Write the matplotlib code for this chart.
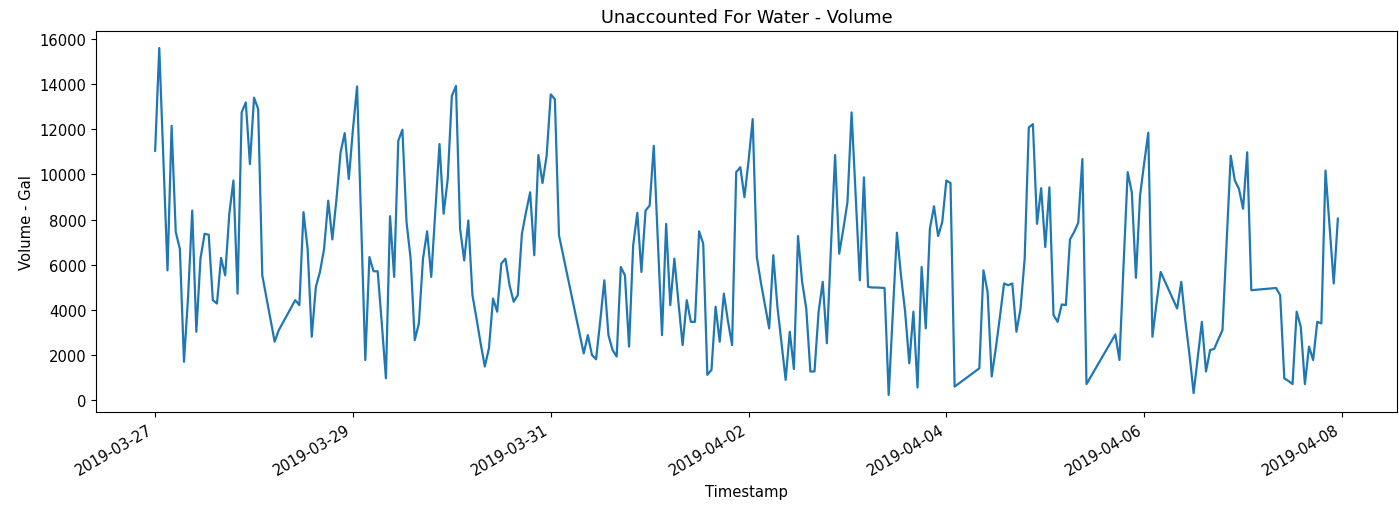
import matplotlib
matplotlib.use('Agg')
import matplotlib.pyplot as plt
import matplotlib.dates as mdates
import pandas as pd

# hours after 2019-03-27 00:00 and the unaccounted volume (gal)
hours = [
    0, 1, 3, 4, 5, 6, 7, 8, 9, 10, 11, 12, 13, 14, 15, 16, 17, 18, 19, 20,
    21, 22, 23, 24, 25, 26, 29, 30, 34, 35, 36, 37, 38, 39, 40, 41, 42, 43, 44, 45,
    46, 47, 48, 49, 50, 51, 52, 53, 54, 55, 56, 57, 58, 59, 60, 61, 62, 63, 64, 65,
    66, 67, 68, 69, 70, 71, 72, 73, 74, 75, 76, 77, 78, 79, 80, 81, 82, 83, 84, 85,
    86, 87, 88, 89, 90, 91, 92, 93, 94, 95, 96, 97, 98, 104, 105, 106, 107, 108, 109, 110,
    111, 112, 113, 114, 115, 116, 117, 118, 119, 120, 121, 122, 123, 124, 125, 126, 127, 128, 129, 130,
    131, 132, 133, 134, 135, 136, 137, 138, 139, 140, 141, 142, 143, 144, 145, 146, 147, 148, 149, 150,
    151, 152, 153, 154, 155, 156, 157, 158, 159, 160, 161, 162, 163, 164, 165, 166, 167, 168, 169, 170,
    171, 172, 173, 174, 175, 176, 177, 178, 179, 180, 181, 182, 183, 184, 185, 186, 187, 188, 189, 190,
    191, 192, 193, 194, 200, 201, 202, 203, 204, 205, 206, 207, 208, 209, 210, 211, 212, 213, 214, 215,
    216, 217, 218, 219, 220, 221, 222, 223, 224, 225, 226, 233, 234, 235, 236, 237, 238, 239, 240, 241,
    242, 243, 244, 248, 249, 250, 251, 252, 253, 254, 255, 256, 257, 258, 259, 260, 261, 262, 263, 264,
    265, 266, 272, 273, 274, 275, 276, 277, 278, 279, 280, 281, 282, 283, 284, 285, 286, 287,
]
volume = [
    11050, 15600, 5750, 12150, 7450, 6700, 1700, 4600, 8400, 3030, 6270, 7370, 7330, 4430, 4280, 6300, 5530, 8260, 9730, 4720,
    12750, 13190, 10460, 13400, 12900, 5530, 2590, 3100, 4430, 4210, 8330, 6710, 2810, 5020, 5680, 6710, 8840, 7120, 8900, 10980,
    11830, 9800, 12000, 13900, 7800, 1780, 6340, 5710, 5710, 3400, 970, 8150, 5460, 11490, 11980, 7890, 6270, 2660, 3400, 6270,
    7480, 5460, 8400, 11350, 8260, 9800, 13480, 13920, 7590, 6190, 7960, 4650, 3600, 2500, 1490, 2300, 4500, 3920, 6050, 6270,
    5090, 4360, 4650, 7370, 8330, 9210, 6420, 10860, 9620, 10830, 13550, 13330, 7300, 2070, 2880, 2000, 1810, 3500, 5310, 2880,
    2220, 1930, 5900, 5530, 2370, 6860, 8300, 5680, 8400, 8620, 11270, 7000, 2880, 7810, 4210, 6270, 4300, 2440, 4430, 3470,
    3470, 7480, 6930, 1120, 1340, 4140, 2590, 4720, 3500, 2440, 10100, 10320, 8990, 10600, 12450, 6340, 5200, 4200, 3180, 6420,
    4140, 2500, 900, 3030, 1380, 7270, 5240, 4060, 1270, 1270, 3920, 5240, 2520, 6800, 10860, 6490, 7590, 8770, 12750, 9000,
    5310, 9870, 5020, 4990, 4990, 4980, 4970, 230, 3800, 7420, 5500, 3900, 1630, 3920, 560, 5900, 3180, 7590, 8590, 7270,
    7890, 9730, 9620, 600, 1410, 5750, 4800, 1050, 2300, 3700, 5170, 5090, 5170, 3030, 4060, 6270, 12080, 12230, 7810, 9390,
    6780, 9430, 3770, 3470, 4240, 4210, 7120, 7450, 7860, 10680, 710, 2910, 1780, 6000, 10100, 9210, 5420, 9070, 10500, 11850,
    2810, 4300, 5680, 4060, 5240, 3500, 2000, 310, 1900, 3470, 1270, 2220, 2270, 2700, 3100, 7000, 10830, 9730, 9360, 8480,
    10980, 4870, 4970, 4650, 970, 850, 710, 3920, 3250, 710, 2370, 1780, 3470, 3400, 10170, 7700, 5170, 8040,
]

timestamps = pd.Timestamp('2019-03-27') + pd.to_timedelta(hours, unit='h')

plt.rcParams['font.family'] = ['DejaVu Sans']
plt.rcParams['font.size'] = 10.6

fig = plt.figure(figsize=(13.99, 5.10), dpi=100)
ax = fig.add_axes([96 / 1399, 1 - 413.3 / 510, (1397 - 96) / 1399, (413.3 - 31.7) / 510])

ax.plot(timestamps, volume, color='#1f77b4', linewidth=1.6)

ax.xaxis.set_major_locator(mdates.DayLocator(interval=2))
ax.xaxis.set_major_formatter(mdates.DateFormatter('%Y-%m-%d'))
plt.setp(ax.get_xticklabels(), rotation=30, ha='right')

ax.set_title('Unaccounted For Water - Volume', fontsize=12.7)
ax.set_xlabel('Timestamp')
ax.set_ylabel('Volume - Gal')

fig.savefig('out.png', dpi=100)
